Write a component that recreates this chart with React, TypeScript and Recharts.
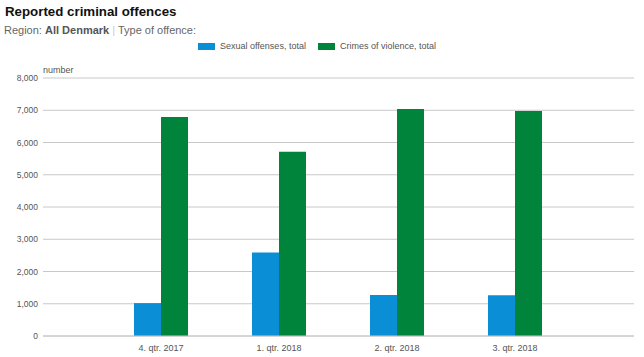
import React from 'react'
import { BarChart, Bar, XAxis, YAxis, CartesianGrid } from 'recharts'

const quarters = ['4. qtr. 2017', '1. qtr. 2018', '2. qtr. 2018', '3. qtr. 2018']
const sexualOffenses = [1020, 2590, 1270, 1265]
const crimesOfViolence = [6790, 5710, 7040, 6980]
const yTicks = [0, 1000, 2000, 3000, 4000, 5000, 6000, 7000, 8000]

const BLUE = '#0a8fd6'
const GREEN = '#00843b'

const data = quarters.map((q, i) => ({
    name: q,
    sexual: sexualOffenses[i],
    violence: crimesOfViolence[i],
}))

const font = '"Liberation Sans", Arial, sans-serif'

const legendItems = [
    { label: 'Sexual offenses, total', color: BLUE },
    { label: 'Crimes of violence, total', color: GREEN },
]

export default function App() {
    return (
        <div style={{ position: 'absolute', left: 0, top: 0, width: 644, height: 357, background: '#fff', fontFamily: font }}>
            <div style={{ position: 'absolute', left: 5, top: 4, fontSize: 13.3, fontWeight: 700, color: '#111' }}>
                Reported criminal offences
            </div>
            <div style={{ position: 'absolute', left: 4, top: 24, fontSize: 11, color: '#666' }}>
                Region: <b style={{ color: '#555' }}>All Denmark</b> <span style={{ color: '#ccc' }}>|</span> Type of offence:
            </div>
            <div style={{ position: 'absolute', left: 198, top: 41, display: 'flex', fontSize: 9, color: '#555' }}>
                {legendItems.map((it) => (
                    <div key={it.label} style={{ display: 'flex', alignItems: 'center', marginRight: 12 }}>
                        <span style={{ width: 17, height: 7, background: it.color, display: 'inline-block', marginRight: 5 }} />
                        <span>{it.label}</span>
                    </div>
                ))}
            </div>
            <div style={{ position: 'absolute', left: 43, top: 65, fontSize: 9, color: '#555' }}>number</div>
            <BarChart
                width={644}
                height={357}
                data={data}
                margin={{ top: 78, right: 10, bottom: 0, left: 0 }}
                barGap={0}
                barSize={27}
            >
                <CartesianGrid horizontal vertical={false} stroke="#c8c8c8" />
                <XAxis
                    dataKey="name"
                    height={21}
                    padding={{ left: 59, right: 60 }}
                    tickLine={false}
                    axisLine={{ stroke: '#c8c8c8' }}
                    tickSize={0}
                    tickMargin={9}
                    tick={{ fill: '#555', fontSize: 9, fontFamily: font }}
                />
                <YAxis
                    width={43}
                    domain={[0, 8000]}
                    ticks={yTicks}
                    interval={0}
                    tickLine={false}
                    axisLine={false}
                    tickSize={0}
                    tickMargin={5}
                    tickFormatter={(v: number) => v.toLocaleString('en-US')}
                    tick={{ fill: '#555', fontSize: 8.5, fontFamily: font }}
                />
                <Bar dataKey="sexual" name="Sexual offenses, total" fill={BLUE} isAnimationActive={false} />
                <Bar dataKey="violence" name="Crimes of violence, total" fill={GREEN} isAnimationActive={false} />
            </BarChart>
        </div>
    )
}
